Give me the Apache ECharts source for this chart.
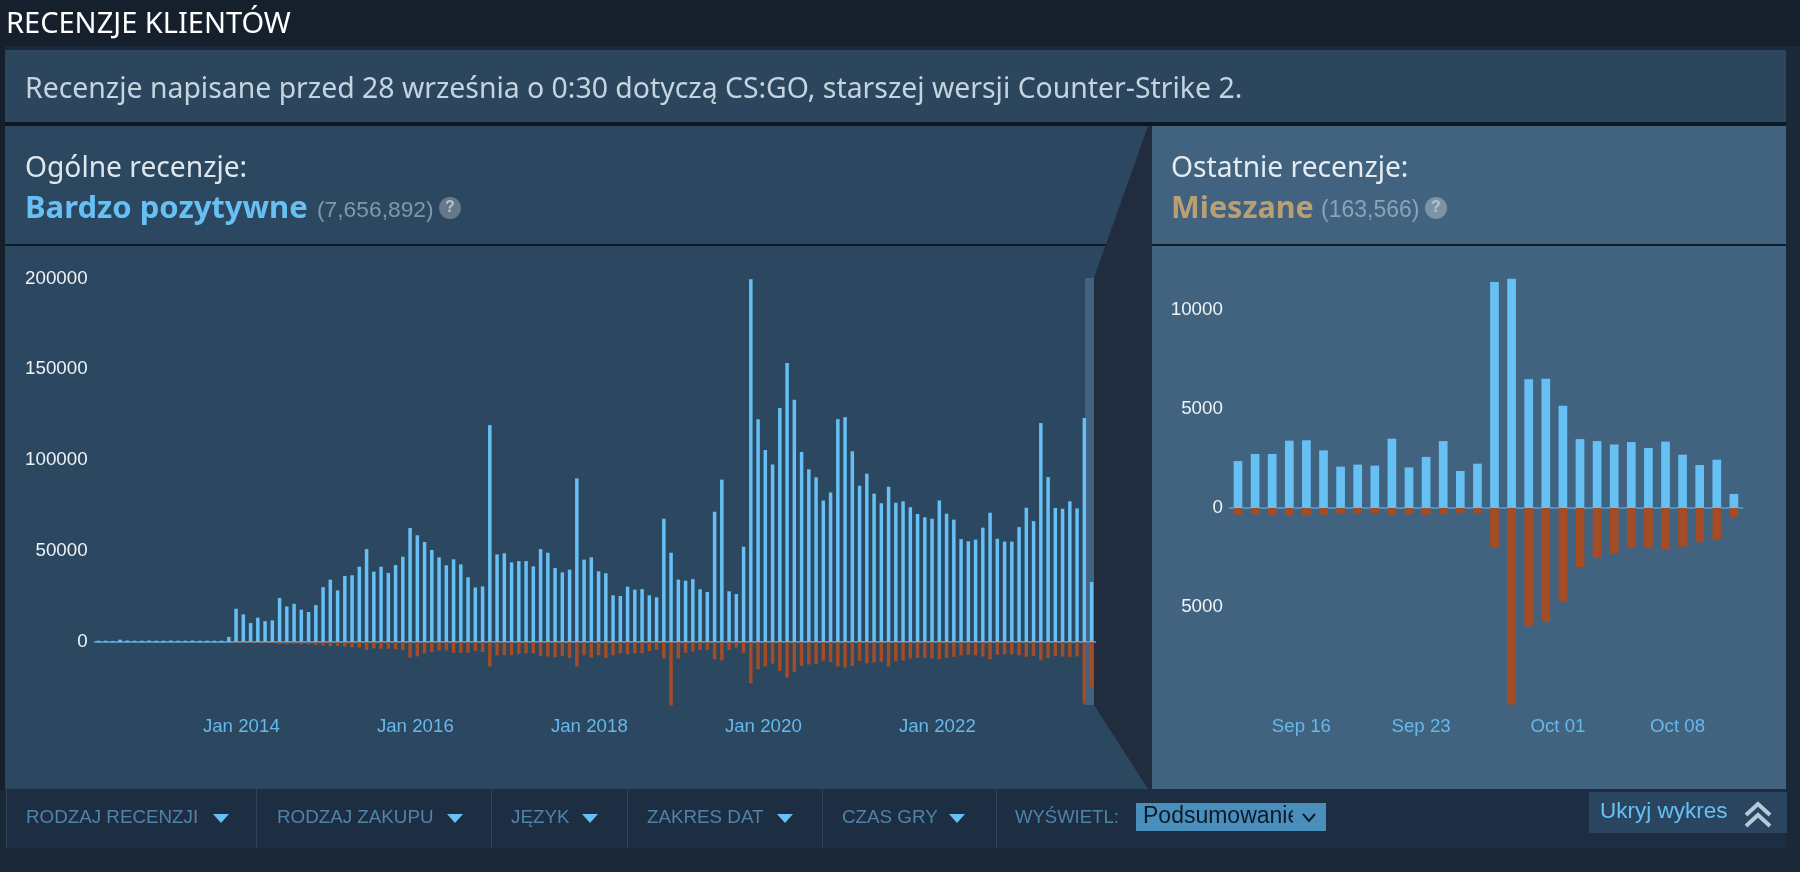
<!DOCTYPE html>
<html>
<head>
<meta charset="utf-8">
<title>Recenzje klientów</title>
<style>
    html, body { margin: 0; padding: 0; background: #1b2838; }
    #reviews { width: 1800px; height: 872px; }
</style>
<script src="https://cdn.jsdelivr.net/npm/echarts@6/dist/echarts.min.js"></script>
</head>
<body>
<div id="reviews"></div>
<script>
    var ARIAL = '"Liberation Sans", Arial, sans-serif';
    var MOTIVA = '"Noto Sans", "Open Sans", sans-serif';

    // monthly review counts, May 2012 - Oct 2023
    var monthUp = [700, 700, 600, 1300, 800, 700, 700, 800, 700, 700, 800, 700, 700, 800, 700, 700, 700, 700, 2800,
        18300, 15200, 10400, 13400, 11500, 11900, 24200, 19600, 21000, 17800, 16500, 20300, 30200, 34300, 28400, 36300, 36700, 41400, 51100,
        38700, 41400, 38000, 42300, 46900, 62700, 58700, 55000, 50600, 46600, 42200, 45500, 42700, 35600, 30000, 30600, 119300,
        48200, 48800, 43800, 44500, 44500, 41600, 51100, 49100, 40700, 38300, 39800, 90000,
        45300, 46600, 38900, 37800, 25700, 25300, 30400, 28800, 29100, 25700, 24600, 67800, 49100, 34300, 33700, 34600, 29000, 27500, 71700, 89300,
        27900, 26400, 52400, 199500, 122500, 105600, 97700, 128700, 153400, 133300, 104500, 95000, 90600, 77900, 82300, 122600, 123700, 104900,
        86000, 92600, 81600, 76300, 85400, 76600, 77400, 74100, 70400, 68600, 67800, 77900, 70600, 67300, 56600, 55400, 56300, 62900, 71100,
        56800, 55200, 55200, 63200, 73900, 66500, 120400, 90700, 73700, 73300, 77400, 73500, 123200, 33000];
    var monthDown = [0, 0, 0, 0, 0, 0, 0, 0, 0, 0, 0, 0, 0, 0, 0, 0, 0, 0, 100,
        700, 600, 500, 500, 500, 500, 1200, 1200, 1100, 1200, 1200, 1600, 2000, 2400, 2200, 2600, 2900, 3100, 4400,
        3500, 3700, 3700, 4000, 4400, 8600, 7900, 6200, 5500, 4800, 4600, 5900, 5900, 5900, 4900, 5500, 13500,
        7300, 7300, 7300, 6600, 6200, 6200, 7700, 8000, 8400, 7700, 8800, 13500,
        7300, 8600, 7300, 8800, 7300, 6200, 6800, 6200, 6200, 5000, 4400, 9000, 34800, 9000, 5900, 5300, 4400, 4400, 9500, 10100,
        4400, 3100, 5900, 22700, 15000, 13500, 11900, 15900, 19600, 16500, 13200, 12400, 12100, 10400, 11000, 13500, 14100, 13200,
        10400, 11700, 11300, 10800, 13500, 10600, 10200, 9100, 8800, 8800, 9000, 9500, 8800, 8200, 7300, 7000, 7300, 8000, 9500,
        7000, 6800, 6800, 7300, 8200, 7700, 10100, 8800, 7700, 8000, 8200, 8000, 33900, 24700];

    // daily review counts, Sep 12 - Oct 11
    var dayUp = [2370, 2730, 2730, 3400, 3420, 2910, 2090, 2190, 2140, 3500, 2050, 2580, 3380, 1870, 2240,
        11410, 11580, 6500, 6530, 5170, 3480, 3380, 3210, 3330, 3030, 3350, 2690, 2170, 2440, 710];
    var dayDown = [340, 320, 340, 400, 390, 340, 300, 290, 250, 340, 320, 340, 320, 240, 250,
        1970, 9930, 5970, 5760, 4710, 2980, 2510, 2310, 2020, 1990, 2120, 1950, 1730, 1580, 450];

    var monthNames = ['Jan', 'Feb', 'Mar', 'Apr', 'May', 'Jun', 'Jul', 'Aug', 'Sep', 'Oct', 'Nov', 'Dec'];

    function monthLabels(){
        var list = [];
        for (var i = 0; i < monthUp.length; i++) {
            var m = 4 + i;
            list.push(monthNames[m % 12] + ' ' + (2012 + Math.floor(m / 12)));
        }
        return list;
    }

    function dayLabels(){
        var list = [];
        for (var i = 0; i < dayUp.length; i++) {
            var d = 12 + i;
            var text = d <= 30 ? 'Sep ' + d : 'Oct ' + ('0' + (d - 30)).slice(-2);
            list.push(text);
        }
        return list;
    }

    function negative(list){
        return list.map(function (v) { return -v; });
    }

    function box(x, y, w, h, fill, z){
        return { type: 'rect', z: z === undefined ? -5 : z, silent: true, shape: { x: x, y: y, width: w, height: h }, style: { fill: fill } };
    }

    function label(text, x, y, font, fill, align){
        return { type: 'text', z: 10, silent: true, style: { text: text, x: x, y: y, font: font, fill: fill, align: align || 'left', verticalAlign: 'middle' } };
    }

    function filter(text, x, arrowX){
        return [
            label(text, x, 818, '18.8px ' + ARIAL, '#4f83a8'),
            { type: 'polygon', z: 10, silent: true, shape: { points: [[arrowX - 8, 814], [arrowX + 8, 814], [arrowX, 823]] }, style: { fill: '#66c0f4' } }
        ];
    }

    function help(x, y, fill){
        return [
            { type: 'circle', z: 9, silent: true, shape: { cx: x, cy: y, r: 11 }, style: { fill: fill } },
            label('?', x, y, 'bold 16px ' + ARIAL, '#b5c3cf', 'center')
        ];
    }

    function chrome(){
        var els = [
            box(0, 0, 1800, 872, '#1b2838', -10),
            box(0, 0, 1800, 46, '#16202d', -9),
            box(0, 46, 5, 744, '#16202d', -9),
            box(5, 50, 1781, 72, '#2b465d'),
            box(5, 122, 1781, 4, '#0e1824'),
            box(5, 126, 1146, 663, '#2c4760'),
            box(1151, 126, 635, 663, '#41637f'),
            box(5, 244, 1781, 2, '#101b28'),
            // selected period on the long chart
            box(1085, 278, 9, 427, '#41637f'),
            { type: 'polygon', z: -4, silent: true, shape: { points: [[1148, 126], [1152, 126], [1152, 789], [1148, 789], [1094, 705], [1094, 278]] }, style: { fill: '#212d3e' } },
            // filter row
            box(6, 789, 1780, 59, '#1e2e42'),
            box(6, 789, 1, 59, '#2f4459'), box(256, 789, 1, 59, '#2f4459'), box(491, 789, 1, 59, '#2f4459'),
            box(627, 789, 1, 59, '#2f4459'), box(822, 789, 1, 59, '#2f4459'), box(996, 789, 1, 59, '#2f4459'),
            box(1589, 792, 198, 41, '#2a4560'),
            box(1136, 803, 190, 28, '#4a8fbb'),

            label('RECENZJE KLIENTÓW', 6, 25, '29px ' + MOTIVA, '#ffffff'),
            label('Recenzje napisane przed 28 września o 0:30 dotyczą CS:GO, starszej wersji Counter-Strike 2.', 25, 90, '28.4px ' + MOTIVA, '#c6d4df'),
            label('Ogólne recenzje:', 25, 169, '28.2px ' + MOTIVA, '#dfe6ec'),
            label('Bardzo pozytywne', 25, 209, 'bold 31px ' + MOTIVA, '#66c0f4'),
            label('(7,656,892)', 317, 211, '22.8px ' + ARIAL, '#7f98ad'),
            label('Ostatnie recenzje:', 1171, 169, '28.2px ' + MOTIVA, '#e6ebf0'),
            label('Mieszane', 1171, 209, 'bold 30.5px ' + MOTIVA, '#b9a074'),
            label('(163,566)', 1321, 211, '23px ' + ARIAL, '#8aa3b8'),

            label('WYŚWIETL:', 1015, 818, '18.5px ' + ARIAL, '#4f83a8'),
            label('Podsumowanie', 1143, 817, '23px ' + ARIAL, '#0d1a28'),
            box(1293, 804, 32, 26, '#4a8fbb', 11),
            { type: 'polyline', z: 12, silent: true, shape: { points: [[1303, 814], [1309, 821], [1315, 814]] }, style: { stroke: '#0d1a28', lineWidth: 2, fill: null } },
            label('Ukryj wykres', 1600, 812, '22.5px ' + ARIAL, '#66c0f4'),
            { type: 'polyline', z: 10, silent: true, shape: { points: [[1746, 815], [1758, 804], [1770, 815]] }, style: { stroke: '#b5c9d6', lineWidth: 4, fill: null } },
            { type: 'polyline', z: 10, silent: true, shape: { points: [[1746, 826], [1758, 815], [1770, 826]] }, style: { stroke: '#b5c9d6', lineWidth: 4, fill: null } }
        ];
        return els.concat(
            help(450, 208, '#66798c'),
            help(1436, 208, '#7f93a6'),
            filter('RODZAJ RECENZJI', 26, 221),
            filter('RODZAJ ZAKUPU', 277, 455),
            filter('JĘZYK', 511, 590),
            filter('ZAKRES DAT', 647, 785),
            filter('CZAS GRY', 842, 957)
        );
    }

    function xAxis(gridIndex, data, shown, margin, padding){
        return {
            type: 'category',
            gridIndex: gridIndex,
            data: data,
            axisTick: { show: false },
            axisLine: { onZero: true, lineStyle: { color: '#4f93bd', width: 2 } },
            axisLabel: {
                color: '#67b8ea',
                fontFamily: ARIAL,
                fontSize: 18.7,
                margin: margin,
                padding: padding,
                interval: function (index) { return shown.indexOf(index) >= 0; }
            }
        };
    }

    function yAxis(gridIndex, min, max, interval, hidden, margin){
        return {
            type: 'value',
            gridIndex: gridIndex,
            min: min,
            max: max,
            interval: interval,
            splitLine: { show: false },
            axisLine: { show: false },
            axisTick: { show: false },
            axisLabel: {
                color: '#eef3f7',
                fontFamily: ARIAL,
                fontSize: 18.8,
                margin: margin,
                formatter: function (v) { return hidden.indexOf(v) >= 0 ? '' : String(Math.abs(v)); }
            }
        };
    }

    function bars(name, axisIndex, data, color, width){
        return {
            name: name,
            type: 'bar',
            xAxisIndex: axisIndex,
            yAxisIndex: axisIndex,
            stack: 'reviews' + axisIndex,
            barWidth: width,
            itemStyle: { color: color },
            data: data
        };
    }

    var chart = echarts.init(document.getElementById('reviews'), null, { renderer: 'canvas' });
    chart.setOption({
        animation: false,
        backgroundColor: '#1b2838',
        graphic: { elements: chrome() },
        grid: [
            { left: 94.7, top: 278.4, width: 1000.5, height: 454.5, outerBoundsMode: 'none' },
            { left: 1229.45, top: 211, width: 513, height: 495, outerBoundsMode: 'none' }
        ],
        xAxis: [
            xAxis(0, monthLabels(), [20, 44, 68, 92, 116], -16, [0, 4, 0, 0]),
            xAxis(1, dayLabels(), [4, 11, 19, 26], 11, [0, 10, 0, 0])
        ],
        yAxis: [
            yAxis(0, -50000, 200000, 50000, [-50000], 7),
            yAxis(1, -10000, 15000, 5000, [-10000, 15000], 6.5)
        ],
        series: [
            bars('Pozytywne', 0, monthUp, '#66c0f4', 3.5),
            bars('Negatywne', 0, negative(monthDown), '#a34c25', 3.5),
            bars('Pozytywne', 1, dayUp, '#66c0f4', 8.7),
            bars('Negatywne', 1, negative(dayDown), '#a34c25', 8.7)
        ]
    });
</script>
</body>
</html>
